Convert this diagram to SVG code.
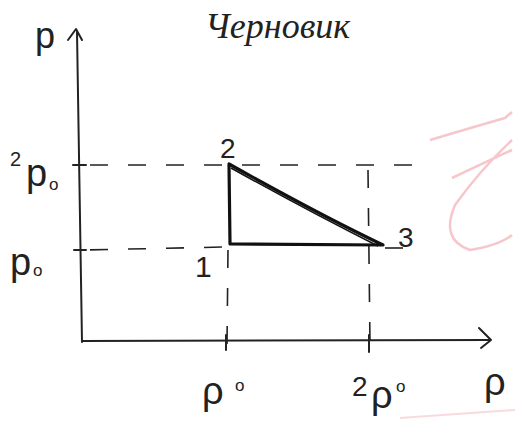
<svg xmlns="http://www.w3.org/2000/svg" width="515" height="432" viewBox="0 0 515 432">
<style>
.ax{fill:none;stroke:#222;stroke-width:2;stroke-linecap:round;stroke-linejoin:round}
.dash{fill:none;stroke:#222;stroke-width:1.6;stroke-dasharray:18 20}
.tri{fill:none;stroke:#111;stroke-width:3.2;stroke-linejoin:round;stroke-linecap:round}
.t{font-family:"Liberation Sans","DejaVu Sans",sans-serif;fill:#222}
.h{font-family:"Liberation Serif","DejaVu Serif",serif;font-style:italic;fill:#222}
</style>
<rect width="515" height="432" fill="#fff"/>
<path d="M430 140 Q470 128 505 118 L512 112 M512 140 Q480 170 455 205 Q440 240 470 250 Q500 245 512 235 M452 178 Q490 160 512 150" fill="none" stroke="#f0a0a8" stroke-width="2.5" opacity="0.6"/>
<path d="M400 418 L515 410" stroke="#f4b8c0" stroke-width="2" opacity="0.5"/>
<text class="h" x="205" y="38" font-size="36">Черновик</text>
<g id="axes">
<path class="ax" d="M82 342 L77 32"/>
<path class="ax" d="M68 40 L76 29 L82 40"/>
<path class="ax" d="M82 341 L490 340"/>
<path class="ax" d="M479 328 L491 340 L481 348"/>
<path class="ax" d="M73 165 L86 165 M74 250 L86 250 M226 335 L226 350 M369 335 L369 352"/>
</g>
<g id="connectors">
<path class="dash" d="M84 165 L420 165" stroke-dashoffset="-6"/>
<path class="dash" d="M84 250 L225 247" stroke-dashoffset="-6"/>
<path class="dash" d="M385 248 L415 248" stroke-dasharray="12 10"/>
<path class="dash" d="M228 250 L227 345" stroke-dasharray="12 16"/>
<path class="dash" d="M368 170 L370 345" stroke-dasharray="14 14"/>
</g>
<g id="cycle">
<path class="tri" d="M229 164 L230 244 L383 245 Q320 215 229 164 Z"/>
<path d="M231 168 Q310 212 378 246" fill="none" stroke="#111" stroke-width="1.5"/>
</g>
<g id="node-1"><text class="t" x="195" y="277" font-size="30">1</text></g>
<g id="node-2"><text class="t" x="220" y="158" font-size="28">2</text></g>
<g id="node-3"><text class="t" x="398" y="247" font-size="28">3</text></g>
<g id="labels">
<text class="t" x="35" y="48" font-size="36">p</text>
<text class="t" x="10" y="166" font-size="20">2</text>
<text class="t" x="26" y="186" font-size="38">p</text>
<text class="t" x="49" y="190" font-size="17">o</text>
<text class="t" x="10" y="275" font-size="38">p</text>
<text class="t" x="33" y="276" font-size="17">o</text>
<text class="t" x="202" y="404" font-size="38">ρ</text>
<text class="t" x="235" y="391" font-size="17">o</text>
<text class="t" x="352" y="396" font-size="28">2</text>
<text class="t" x="371" y="408" font-size="38">ρ</text>
<text class="t" x="396" y="392" font-size="17">o</text>
<text class="t" x="484" y="395" font-size="38">ρ</text>
</g>
</svg>
